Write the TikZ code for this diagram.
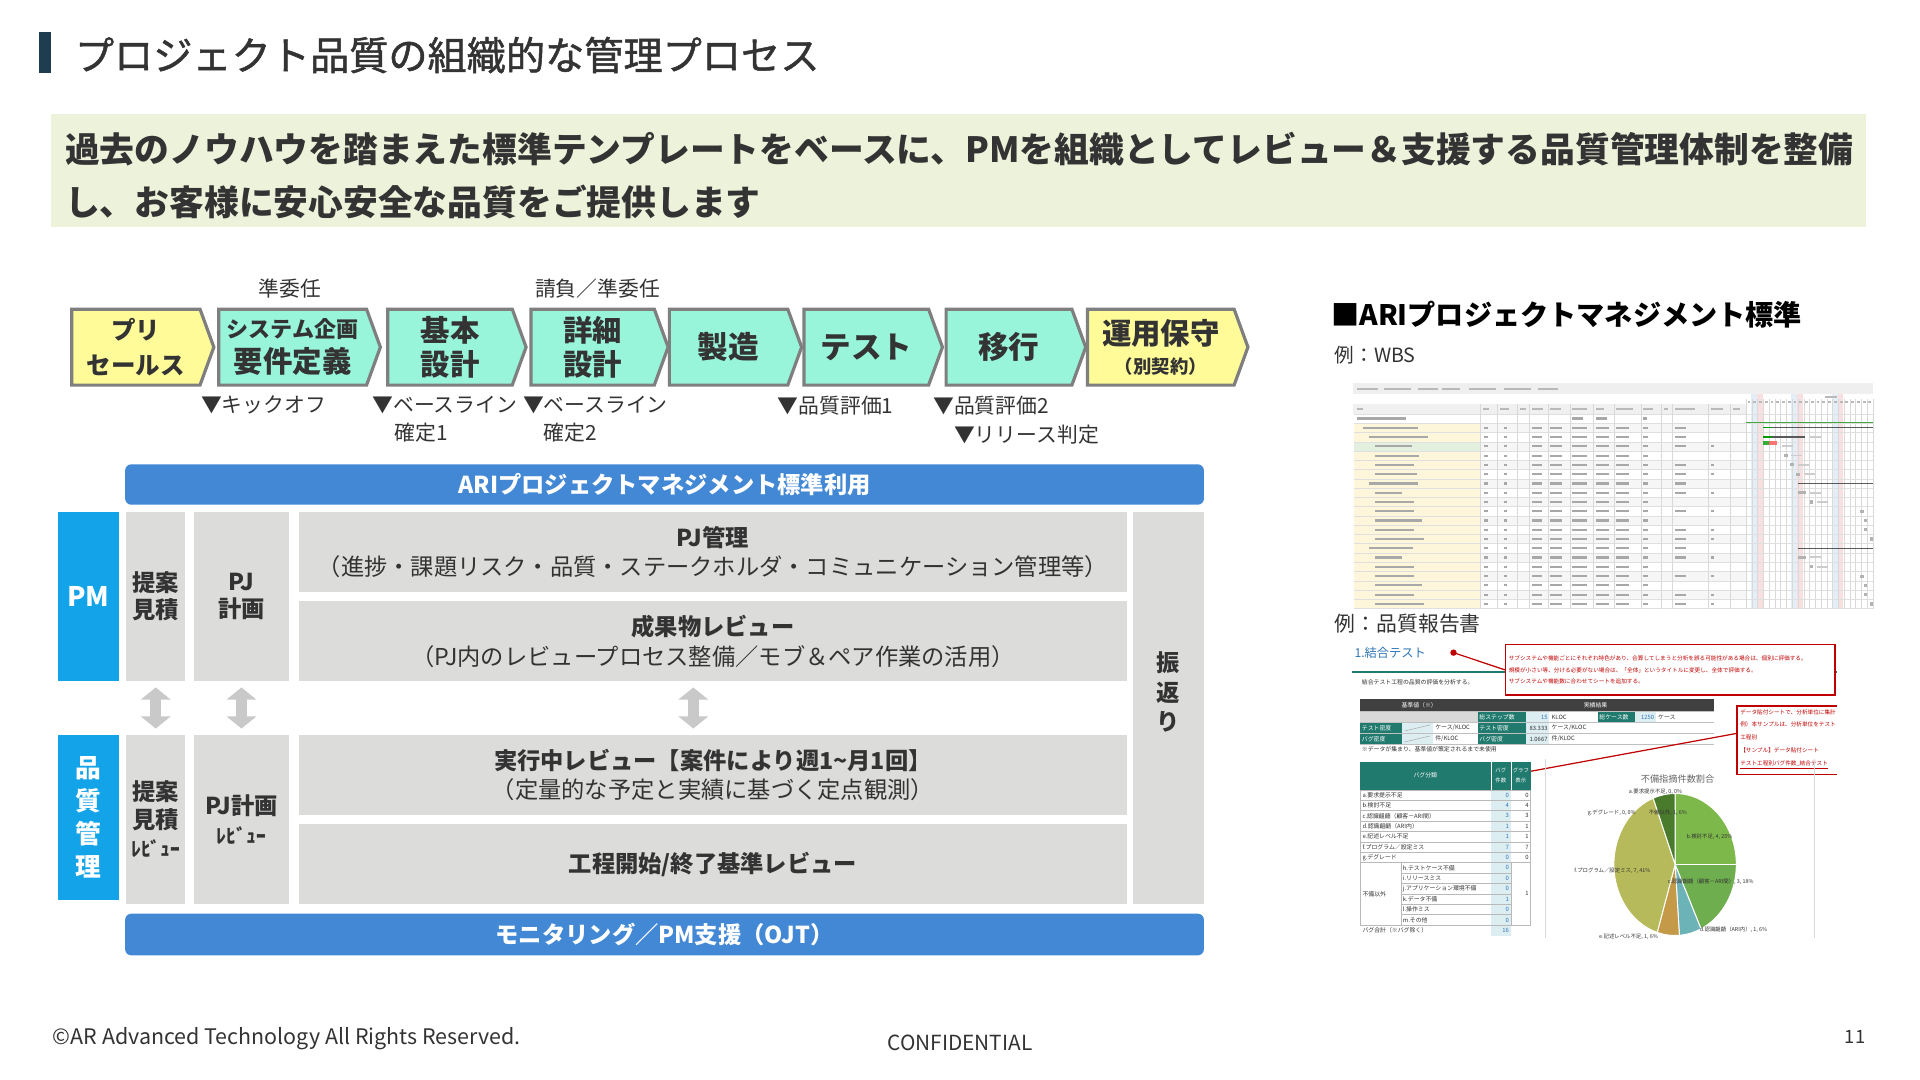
\documentclass[tikz,border=0pt]{standalone}
\usepackage{fontspec}
\setmainfont{Noto Sans CJK JP}
\newfontfamily\jpmedium{Noto Sans CJK JP}[FakeBold=1.2]
\usetikzlibrary{shapes.symbols,arrows.meta}

\definecolor{titlebar}{HTML}{1E3D4E}
\definecolor{bannerbg}{HTML}{EDF2DB}
\definecolor{chevgreen}{HTML}{98F5DA}
\definecolor{chevyellow}{HTML}{FFFB99}
\definecolor{chevline}{HTML}{7F7F7F}
\definecolor{barblue}{HTML}{4388D5}
\definecolor{rolecyan}{HTML}{12A3E8}
\definecolor{boxgray}{HTML}{DCDDDA}
\definecolor{arrowgray}{HTML}{C9C9C9}
\definecolor{txtdark}{HTML}{333333}
\definecolor{repteal}{HTML}{217A6E}
\definecolor{reptitle}{HTML}{2E75B6}
\definecolor{repred}{HTML}{C00000}
\definecolor{cntblue}{HTML}{DDEEF3}
\definecolor{tblhead}{HTML}{404040}
\definecolor{pieb}{HTML}{7DB84A}
\definecolor{piec}{HTML}{6FAE4E}
\definecolor{pied}{HTML}{6CB3B8}
\definecolor{piee}{HTML}{C49A48}
\definecolor{pief}{HTML}{B7BA5A}
\definecolor{pieo}{HTML}{4A7B2C}
\definecolor{wbstool}{HTML}{EFEFEF}
\definecolor{wbshead}{HTML}{F0F0F0}
\definecolor{wbsname}{HTML}{FDF6DA}
\definecolor{wbssel}{HTML}{E3F0DF}
\definecolor{wbsblue}{HTML}{E3EEF7}
\definecolor{wbspink}{HTML}{F8E0E0}
\definecolor{wbstxt}{HTML}{A8A8A8}

\tikzset{
  chev/.style={signal, signal to=east, signal pointer angle=140, draw=chevline,
    line width=2.6pt, fill=chevgreen, minimum height=62, inner sep=0pt,
    align=center, text=txtdark, font=\bfseries\fontsize{24}{28}\selectfont},
  note/.style={font=\fontsize{17}{20}\selectfont, text=txtdark, inner sep=0pt},
  mile/.style={note, anchor=west},
  bluebar/.style={fill=barblue, rounded corners=5pt, text=white, anchor=north west,
    inner sep=0pt, font=\bfseries\fontsize{19}{22}\selectfont},
  role/.style={fill=rolecyan, text=white, anchor=north west, inner sep=0pt,
    align=center, font=\bfseries},
  cell/.style={fill=boxgray, text=txtdark, anchor=north west, inner sep=0pt, align=center},
  dbl/.style={draw=arrowgray, line width=9pt,
    {Triangle[length=10pt,width=24pt]}-{Triangle[length=10pt,width=24pt]},
    shorten <=5pt, shorten >=5pt},
  tiny/.style={font=\fontsize{4.8}{5.5}\selectfont, text=txtdark, inner sep=0pt},
  redbox/.style={draw=repred, line width=1.1pt, fill=white, inner sep=0pt},
}

\begin{document}
\begin{tikzpicture}[x=1pt,y=-1pt]
\useasboundingbox[fill=white] (0,0) rectangle (1568,882);

% タイトル
\fill[titlebar] (32,26) rectangle (42,60);
\node[anchor=west, inner sep=0pt, text=txtdark, font=\jpmedium\fontsize{32}{36}\selectfont] (title) at (61,45) {プロジェクト品質の組織的な管理プロセス};

% リード文
\fill[bannerbg] (42,93) rectangle (1524,185);
\node[anchor=west, inner sep=0pt, text=txtdark, font=\bfseries\fontsize{28.4}{32}\selectfont] (lead1) at (53,122) {過去のノウハウを踏まえた標準テンプレートをベースに、PMを組織としてレビュー＆支援する品質管理体制を整備};
\node[anchor=west, inner sep=0pt, text=txtdark, font=\bfseries\fontsize{28.4}{32}\selectfont] (lead2) at (53,165) {し、お客様に安心安全な品質をご提供します};

% 工程
\node[chev, fill=chevyellow, minimum width=116, font=\bfseries\fontsize{20}{28}\selectfont] (presales) at (111,283.5) {プリ\\セールス};
\node[chev, minimum width=132] (reqdef) at (239,283.5) {{\fontsize{18}{24}\selectfont システム企画}\\要件定義};
\node[chev, minimum width=113] (basic) at (367.5,283.5) {基本\\設計};
\node[chev, minimum width=112] (detail) at (484,283.5) {詳細\\設計};
\node[chev, minimum width=108] (build) at (595,283.5) {\fontsize{25}{28}\selectfont 製造};
\node[chev, minimum width=113] (test) at (707.5,283.5) {\fontsize{25}{28}\selectfont テスト};
\node[chev, minimum width=114] (migrate) at (824,283.5) {\fontsize{25}{28}\selectfont 移行};
\node[chev, fill=chevyellow, minimum width=131, font=\bfseries\fontsize{24}{24}\selectfont] (operate) at (948,283.5) {運用保守\\{\fontsize{15}{18}\selectfont （別契約）}};

% 契約形態
\node[note] (contract1) at (237,236) {準委任};
\node[note] (contract2) at (488,236) {請負／準委任};

% マイルストーン
\node[mile] (kickoff) at (164,331) {▼キックオフ};
\node[mile] (base1) at (304,331) {▼ベースライン};
\node[mile] (fix1) at (322,353) {確定1};
\node[mile] (base2) at (427,331) {▼ベースライン};
\node[mile] (fix2) at (444,353) {確定2};
\node[mile] (eval1) at (635,331) {▼品質評価1};
\node[mile] (eval2) at (762,331) {▼品質評価2};
\node[mile] (release) at (779,355) {▼リリース判定};

% 体制
\node[bluebar, minimum width=881, minimum height=33] (stdbar) at (102,379) {ARIプロジェクトマネジメント標準利用};
\node[role, minimum width=50, minimum height=138, font=\bfseries\fontsize{22}{26}\selectfont] (pm) at (47,418) {PM};
\node[cell, minimum width=48, minimum height=138, font=\bfseries\fontsize{19}{22}\selectfont] (teian) at (103,418) {提案\\見積};
\node[cell, minimum width=78, minimum height=138, font=\bfseries\fontsize{19}{22}\selectfont] (pjplan) at (158,418) {PJ\\計画};
\node[cell, minimum width=676, minimum height=65, font=\fontsize{19}{24}\selectfont] (pjmgmt) at (244,418) {{\bfseries PJ管理}\\（進捗・課題リスク・品質・ステークホルダ・コミュニケーション管理等）};
\node[cell, minimum width=676, minimum height=65, font=\fontsize{19}{24}\selectfont] (deliv) at (244,491) {{\bfseries 成果物レビュー}\\（PJ内のレビュープロセス整備／モブ＆ペア作業の活用）};
\node[cell, minimum width=58, minimum height=320] (retro) at (925,418) {};
\node[text=txtdark, inner sep=0pt, align=center, font=\bfseries\fontsize{19}{24}\selectfont] (retrotext) at ([yshift=13pt]retro.center) {振\\返\\り};

\node[role, minimum width=50, minimum height=135, font=\bfseries\fontsize{21}{27}\selectfont] (qm) at (47,600) {品\\質\\管\\理};
\node[cell, minimum width=48, minimum height=138, font=\bfseries\fontsize{19}{23}\selectfont] (teianrv) at (103,600) {提案\\見積\\{\fontsize{16}{18}\selectfont ﾚﾋﾞｭｰ}};
\node[cell, minimum width=78, minimum height=138, font=\bfseries\fontsize{19}{24}\selectfont] (pjplanrv) at (158,600) {PJ計画\\{\fontsize{16}{18}\selectfont ﾚﾋﾞｭｰ}};
\node[cell, minimum width=676, minimum height=65, font=\fontsize{19}{24}\selectfont] (running) at (244,600) {{\bfseries 実行中レビュー【案件により週1\textasciitilde 月1回】}\\（定量的な予定と実績に基づく定点観測）};
\node[cell, minimum width=676, minimum height=65, font=\bfseries\fontsize{19}{24}\selectfont] (phase) at (244,673) {工程開始/終了基準レビュー};
\node[bluebar, minimum width=881, minimum height=34] (monitor) at (102,746) {モニタリング／PM支援（OJT）};

% 連携
\draw[dbl] (teian.south) -- (teianrv.north);
\draw[dbl] (pjplan.south) -- (pjplanrv.north);
\draw[dbl] ([xshift=-16pt]deliv.south) -- ([xshift=-16pt]running.north);

% 右側
\node[anchor=west, inner sep=0pt, font=\bfseries\fontsize{23}{26}\selectfont] (stdhead) at (1087,257) {■ARIプロジェクトマネジメント標準};
\node[anchor=west, inner sep=0pt, text=txtdark, font=\fontsize{16}{18}\selectfont] (exwbs) at (1090,290) {例：WBS};
\node[anchor=west, inner sep=0pt, text=txtdark, font=\fontsize{17}{19}\selectfont] (exrep) at (1090,509) {例：品質報告書};

% WBS画面
\fill[white] (1105,313) rectangle (1530,497);
\fill[wbstool] (1105,313) rectangle (1530,322);
\foreach \tx/\tw in {1108/17, 1130/22, 1158/16, 1178/14, 1200/22, 1228/22, 1256/16}
  \fill[gray!55] (\tx,316.5) rectangle ++(\tw,2);
\fill[wbshead] (1105,330) rectangle (1426,338);
\foreach \gx in {1430,1463,1496} \fill[wbsblue] (\gx,322) rectangle ++(4.7,175);
\foreach \gx in {1434.7,1467.7,1500.7} \fill[wbspink] (\gx,322) rectangle ++(4.7,175);
\fill[wbsname] (1106,345.57) rectangle (1209,497);
\fill[wbssel] (1106,360.71) rectangle (1209,368.28);
\foreach \i in {1,3,...,19} \fill[gray!7] (1209,338+\i*7.57) rectangle (1426,345.57+\i*7.57);
\foreach \k in {0,...,22} \draw[gray!30, line width=0.3pt] (1426+\k*4.7,326) -- (1426+\k*4.7,497);
\foreach \i in {0,...,21} \draw[gray!25, line width=0.3pt] (1106,338+\i*7.57) -- (1530,338+\i*7.57);
\foreach \cx in {1209,1223,1239,1249,1264,1282,1301,1318,1340,1357,1366,1395,1413,1426}
  \draw[gray!30, line width=0.3pt] (\cx,330) -- (\cx,497);
\foreach \cx/\cw in {1108/5, 1211/5, 1225/7, 1241/5, 1251/9, 1266/9, 1284/12, 1303/7, 1320/14, 1342/8, 1359/3, 1368/16, 1397/10, 1415/6}
  \fill[gray!55] (\cx,333) rectangle ++(\cw,1.8);
\fill[gray!55] (1490,323.5) rectangle ++(10,1.6);
\foreach \k in {0,...,21} \fill[gray!55] (1427.2+\k*4.7,327.5) rectangle ++(2.3,1.6);
\foreach \ind/\w [count=\i from 0] in {0/40, 1/45, 2/48, 3/30, 3/36, 3/32, 3/34, 2/40, 3/22, 3/32, 3/32, 3/38, 3/32, 3/40, 2/36, 3/22, 3/32, 3/32, 3/38, 3/32, 3/40}
  \fill[wbstxt] (1108+\ind*5,340.9+\i*7.57) rectangle ++(\w,1.8);
\foreach \i in {1,...,20} {
  \foreach \cx/\cw in {1212/3, 1228/3, 1251/8, 1266/10, 1284/12, 1303/11, 1320/10, 1342/4}
    \fill[wbstxt] (\cx,340.9+\i*7.57) rectangle ++(\cw,1.8);
}
\foreach \cx/\cw in {1284/9, 1303/9, 1342/3} \fill[wbstxt] (\cx,340.9) rectangle ++(\cw,1.8);
\foreach \i in {1,2,3,5,6,7,8,10,12,13,14,15,17,19,20} \fill[wbstxt] (1368,340.9+\i*7.57) rectangle ++(9,1.8);
\foreach \i in {3,5,6,8,10,12,13,15,17,19,20} \fill[wbstxt] (1397,340.9+\i*7.57) rectangle ++(3,1.8);
\draw[green!55!black!75, line width=1pt] (1426,345) -- (1530,345);
\foreach \i/\ga/\gb in {1/1440/1530, 2/1440/1474, 7/1468/1530, 14/1468/1530}
  \draw[gray!70!black, line width=1.1pt] (\ga,341.8+\i*7.57) -- (\gb,341.8+\i*7.57);
\foreach \i in {1,2} \draw[green!60!black, line width=1.1pt] (1440,341.8+\i*7.57) -- (1447,341.8+\i*7.57);
\fill[green!60!black!80] (1440,360.5) rectangle ++(5,3);
\fill[red!55] (1445,360.5) rectangle ++(6,3);
\foreach \i/\ga/\gw in {4/1457/3, 5/1462/3, 6/1467/3, 8/1468/7, 9/1478/3, 10/1519/3, 11/1522/3, 12/1522/3, 13/1527/3, 15/1468/7, 16/1478/3, 17/1519/3, 18/1522/3, 19/1522/3, 20/1527/3}
  \fill[gray!60] (\ga,340.5+\i*7.57) rectangle ++(\gw,2.6);
\foreach \i/\ga in {2/1478, 3/1455, 4/1463, 5/1468, 6/1473, 8/1478, 9/1484, 15/1478, 16/1484}
  \fill[gray!40] (\ga,340.9+\i*7.57) rectangle ++(9,1.6);

% 品質報告書
\fill[white] (1105,522) rectangle (1500,766);
\node[anchor=west, inner sep=0pt, text=reptitle, font=\fontsize{10}{12}\selectfont] (rtitle) at (1106,533) {1.結合テスト};
\draw[repteal, line width=1.6pt] (1104,549) -- (1500,549);
\node[redbox, anchor=north west, minimum width=269, minimum height=41] (note1) at (1229,526) {};
\node[anchor=west, inner sep=0pt, text=repred, align=left, font=\fontsize{4.6}{9.5}\selectfont] (note1text) at ([xshift=3pt]note1.west) {サブシステムや機能ごとにそれぞれ特色があり、合算してしまうと分析を誤る可能性がある場合は、個別に評価する。\\規模が小さい等、分ける必要がない場合は、「全体」というタイトルに変更し、全体で評価する。\\サブシステムや機能数に合わせてシートを追加する。};
\coordinate (dot1) at (1187,533);
\fill[repred] (dot1) circle (2.6);
\draw[repred, line width=1pt] (dot1) -- (note1.west);
\node[tiny, anchor=west] (rdesc) at (1112,557) {結合テスト工程の品質の評価を分析する。};

% 基準値・実績結果
\fill[tblhead] (1111,571) rectangle (1400,581);
\node[tiny, text=white] (hbase) at (1159,576) {基準値（※）};
\node[tiny, text=white] (hresult) at (1303,576) {実績結果};
\fill[gray!30] (1111,581) rectangle (1207,590);
\fill[repteal] (1111,590) rectangle (1145,608);
\fill[cntblue] (1145,590) rectangle (1170,608);
\draw[gray!70, line width=0.4pt] (1147,597) -- (1168,592) (1147,606) -- (1168,601);
\node[tiny, anchor=west, text=white] (bdens1) at (1112,594.5) {テスト密度};
\node[tiny, anchor=west, text=white] (bdens2) at (1112,603.5) {バグ密度};
\node[tiny, anchor=west] (bunit1) at (1172,594.5) {ケース/KLOC};
\node[tiny, anchor=west] (bunit2) at (1172,603.5) {件/KLOC};
\fill[repteal] (1207,581) rectangle (1246,608);
\fill[repteal] (1305,581) rectangle (1335,590);
\fill[cntblue] (1246,581) rectangle (1265,608);
\fill[cntblue] (1335,581) rectangle (1352,590);
\node[tiny, anchor=west, text=white] (rsteps) at (1208,585.5) {総ステップ数};
\node[tiny, anchor=west, text=white] (rdens1) at (1208,594.5) {テスト密度};
\node[tiny, anchor=west, text=white] (rdens2) at (1208,603.5) {バグ密度};
\node[tiny, anchor=west, text=white] (rcases) at (1306,585.5) {総ケース数};
\node[tiny, anchor=east, text=reptitle] (vsteps) at (1264,585.5) {15};
\node[tiny, anchor=east] (vdens1) at (1264,594.5) {83.333};
\node[tiny, anchor=east] (vdens2) at (1264,603.5) {1.0667};
\node[tiny, anchor=east, text=reptitle] (vcases) at (1351,585.5) {1250};
\node[tiny, anchor=west] (ukloc) at (1267,585.5) {KLOC};
\node[tiny, anchor=west] (udens1) at (1267,594.5) {ケース/KLOC};
\node[tiny, anchor=west] (udens2) at (1267,603.5) {件/KLOC};
\node[tiny, anchor=west] (ucases) at (1354,585.5) {ケース};
\foreach \ty in {581,590,599,608} \draw[gray!50, line width=0.3pt] (1111,\ty) -- (1400,\ty);
\node[tiny, anchor=west] (rnote) at (1112,612) {※データが集まり、基準値が策定されるまで未使用};

% 注記2
\begin{scope}
  \clip (1405,570) rectangle (1500,640);
  \node[redbox, anchor=north west, minimum width=95, minimum height=56] (note2) at (1418,576) {};
  \node[anchor=north west, inner sep=0pt, text=repred, align=left, font=\fontsize{4.6}{10.5}\selectfont] (note2text) at (1421,579) {データ貼付シートで、分析単位に集計\\例）本サンプルは、分析単位をテスト\\工程別\\【サンプル】データ貼付シート\\\underline{テスト工程別バグ件数\_結合テスト}};
\end{scope}
\coordinate (dot2) at (1233,633);
\fill[repred] (dot2) circle (2.6);
\draw[repred, line width=1pt] (dot2) -- (1418,599);

% バグ分類表
\fill[repteal] (1111,622) rectangle (1250,645);
\draw[white, line width=0.5pt] (1217.5,622) -- (1217.5,645) (1234,622) -- (1234,645);
\node[tiny, text=white] (hbug) at (1164,633.5) {バグ分類};
\node[tiny, text=white, align=center, font=\fontsize{4.4}{8}\selectfont] (hcnt) at (1225.7,633.5) {バグ\\件数};
\node[tiny, text=white, align=center, font=\fontsize{4.4}{8}\selectfont] (hgraph) at (1242,633.5) {グラフ\\表示};
\fill[cntblue] (1217.5,645) rectangle (1234,764);
\foreach \lab/\cnt [count=\r from 0] in {a.要求提示不足/0, b.検討不足/4, c.認識齟齬（顧客－ARI間）/3, d.認識齟齬（ARI内）/1, e.記述レベル不足/1, f.プログラム／設定ミス/7, g.デグレード/0} {
  \draw[gray!55, line width=0.4pt] (1111,645+\r*8.5) rectangle (1250,653.5+\r*8.5);
  \node[tiny, anchor=west] (bug\r) at (1112.5,649.25+\r*8.5) {\lab};
  \node[tiny, anchor=east, text=reptitle] (bugc\r) at (1232.5,649.25+\r*8.5) {\cnt};
  \node[tiny, anchor=east] (bugg\r) at (1248.5,649.25+\r*8.5) {\cnt};
}
\foreach \lab/\cnt [count=\r from 7] in {h.テストケース不備/0, i.リリースミス/0, j.アプリケーション環境不備/0, k.データ不備/1, l.操作ミス/0, m.その他/0} {
  \draw[gray!55, line width=0.4pt] (1144,645+\r*8.5) rectangle (1234,653.5+\r*8.5);
  \node[tiny, anchor=west] (bug\r) at (1145.5,649.25+\r*8.5) {\lab};
  \node[tiny, anchor=east, text=reptitle] (bugc\r) at (1232.5,649.25+\r*8.5) {\cnt};
}
\draw[gray!55, line width=0.4pt] (1111,704.5) rectangle (1250,755.5);
\node[tiny, anchor=west] (bugother) at (1112.5,730) {不備以外};
\node[tiny, anchor=east] (buggother) at (1248.5,730) {1};
\draw[gray!55, line width=0.4pt] (1111,755.5) -- (1250,755.5);
\node[tiny, anchor=west] (bugsum) at (1112.5,760) {バグ合計（※バグ除く）};
\node[tiny, anchor=east, text=reptitle] (bugsumc) at (1232.5,760) {16};

% 円グラフ
\draw[gray!30, line width=0.5pt] (1262,620) -- (1262,766) (1482,620) -- (1482,766);
\node[text=gray!80!black, inner sep=0pt, font=\fontsize{7.5}{9}\selectfont] (pietitle) at (1370,636) {不備指摘件数割合};
\foreach \a/\b/\c in {-90/0/pieb, 0/65/piec, 65/86/pied, 86/107/piee, 107/249/pief, 249/270/pieo}
  \filldraw[fill=\c, draw=white, line width=0.8pt] (1368,706) -- ++(\a:50 and 58) arc[start angle=\a, end angle=\b, x radius=50, y radius=58] -- cycle;
\node[tiny, font=\fontsize{4.4}{5}\selectfont] (pa) at (1352,647) {a.要求提示不足, 0, 0\%};
\node[tiny, font=\fontsize{4.4}{5}\selectfont, anchor=east] (pg) at (1336,664) {g.デグレード, 0, 0\%};
\node[tiny, font=\fontsize{4.4}{5}\selectfont] (po) at (1362,664) {不備以外, 1, 6\%};
\node[tiny, font=\fontsize{4.4}{5}\selectfont] (pb) at (1396,683) {b.検討不足, 4, 25\%};
\node[tiny, font=\fontsize{4.4}{5}\selectfont, anchor=east] (pf) at (1348,711) {f.プログラム／設定ミス, 7, 41\%};
\node[tiny, font=\fontsize{4.4}{5}\selectfont] (pc) at (1397,720) {c.認識齟齬（顧客－ARI間）, 3, 18\%};
\node[tiny, font=\fontsize{4.4}{5}\selectfont, anchor=east] (pe) at (1354,765) {e.記述レベル不足, 1, 6\%};
\node[tiny, font=\fontsize{4.4}{5}\selectfont, anchor=west] (pd) at (1388,759) {d.認識齟齬（ARI内）, 1, 6\%};

% フッター
\node[anchor=west, inner sep=0pt, text=txtdark, font=\fontsize{17.5}{20}\selectfont] (copyright) at (43,848) {©AR Advanced Technology All Rights Reserved.};
\node[inner sep=0pt, text=txtdark, font=\fontsize{17}{19}\selectfont] (confidential) at (784,852) {CONFIDENTIAL};
\node[inner sep=0pt, text=txtdark, font=\fontsize{15}{17}\selectfont] (pageno) at (1515,847) {11};
\end{tikzpicture}
\end{document}
